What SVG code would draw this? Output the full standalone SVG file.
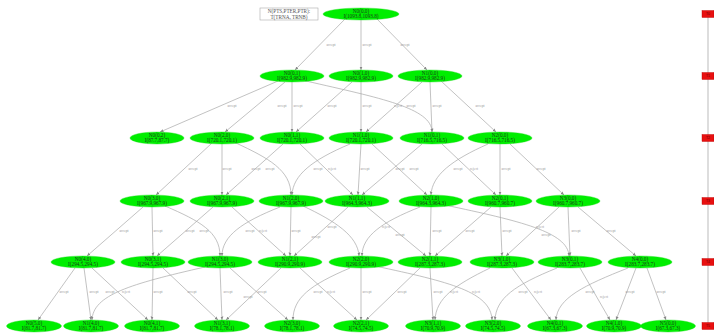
<svg xmlns="http://www.w3.org/2000/svg" width="714" height="335" viewBox="0 0 714 335">
<style>
.n{fill:#0e0;stroke:#2d2;stroke-width:0.4}
.t{font-family:"Liberation Serif",serif;font-size:5.2px;fill:#1a3a1a;text-anchor:middle}
.lg{font-family:"Liberation Serif",serif;font-size:5.2px;fill:#555;text-anchor:middle}
.e{fill:none;stroke:#a8a8a8;stroke-width:0.7;marker-end:url(#ah)}
.l{font-family:"Liberation Serif",serif;font-size:3.6px;fill:#999;text-anchor:middle}
.tl{stroke:#aaa;stroke-width:0.8}
.rb{fill:#e81010;stroke:#b00;stroke-width:0.4}
.rt{font-family:"Liberation Sans",sans-serif;font-size:3.4px;fill:#600;text-anchor:middle}
</style>
<defs>
<marker id="ah" markerWidth="4" markerHeight="4" refX="3.5" refY="2" orient="auto" markerUnits="userSpaceOnUse"><path d="M0,0.5 L3.5,2 L0,3.5 Z" fill="#888"/></marker>
</defs>
<rect width="714" height="335" fill="#fff"/>
<g id="legend">
<rect x="260" y="8" width="58" height="12" fill="#fff" stroke="#aaa" stroke-width="0.6"/>
<text class="lg" x="289" y="13">N(PTS,PTER,PTR):</text>
<text class="lg" x="289" y="18.5">T(TRNA, TRNB)</text>
</g>
<g id="timeline">
<line class="tl" x1="708" y1="14" x2="708" y2="326"/>
<rect class="rb" x="702" y="10.5" width="12" height="7"/><text class="rt" x="708" y="15.3">T0</text>
<rect class="rb" x="702" y="72.5" width="12" height="7"/><text class="rt" x="708" y="77.3">T1</text>
<rect class="rb" x="702" y="134.5" width="12" height="7"/><text class="rt" x="708" y="139.3">T2</text>
<rect class="rb" x="702" y="197.5" width="12" height="7"/><text class="rt" x="708" y="202.3">T3</text>
<rect class="rb" x="702" y="258.5" width="12" height="7"/><text class="rt" x="708" y="263.3">T4</text>
<rect class="rb" x="702" y="322.5" width="12" height="7"/><text class="rt" x="708" y="327.3">T5</text>
</g>
<g id="connectors">
<path class="e" d="M345,19 L295,70"/><text class="l" x="331" y="46">accept</text>
<path class="e" d="M361,20 L361,70"/><text class="l" x="367" y="46">accept</text>
<path class="e" d="M377,19 L427,70"/><text class="l" x="405" y="46">accept</text>

<path class="e" d="M278,81 L160,132"/><text class="l" x="232" y="107">accept</text>
<path class="e" d="M285,82 L225,132"/><text class="l" x="282" y="107">accept</text>
<path class="e" d="M292,82 L292,132"/><text class="l" x="298" y="107">accept</text>
<path class="e" d="M306,81 C380,98 432,108 432,132"/><text class="l" x="398" y="107">reject</text>
<path class="e" d="M352,82 L296,132"/><text class="l" x="332" y="107">accept</text>
<path class="e" d="M361,82 L361,132"/><text class="l" x="367" y="107">accept</text>
<path class="e" d="M422,82 L366,132"/><text class="l" x="411" y="107">accept</text>
<path class="e" d="M430,82 L432,132"/><text class="l" x="437" y="107">accept</text>
<path class="e" d="M441,81 L496,132"/><text class="l" x="480" y="107">accept</text>

<path class="e" d="M212,143 L156,195"/><text class="l" x="193" y="170">accept</text>
<path class="e" d="M222,144 L222,195"/><text class="l" x="227" y="170">accept</text>
<path class="e" d="M236,143 C268,158 291,170 291,195"/><text class="l" x="256" y="170">accept</text>
<path class="e" d="M283,144 L226,195"/><text class="l" x="270" y="170">accept</text>
<path class="e" d="M300,144 L353,195"/><text class="l" x="318" y="170">accept</text>
<path class="e" d="M350,144 C312,160 293,175 292,195"/><text class="l" x="332" y="170">reject</text>
<path class="e" d="M361,144 L358,195"/><text class="l" x="365" y="170">accept</text>
<path class="e" d="M372,144 L427,195"/><text class="l" x="400" y="170">accept</text>
<path class="e" d="M422,144 L362,195"/><text class="l" x="414" y="170">accept</text>
<path class="e" d="M442,144 L496,195"/><text class="l" x="458" y="170">accept</text>
<path class="e" d="M488,144 C452,160 432,175 431,195"/><text class="l" x="474" y="170">reject</text>
<path class="e" d="M500,144 L500,195"/><text class="l" x="506" y="170">accept</text>
<path class="e" d="M510,144 L564,195"/><text class="l" x="541" y="170">accept</text>

<path class="e" d="M143,207 L87,256"/><text class="l" x="124" y="232">accept</text>
<path class="e" d="M152,207 L153,256"/><text class="l" x="158" y="232">accept</text>
<path class="e" d="M165,206 C200,221 220,232 220,256"/><text class="l" x="190" y="232">accept</text>
<path class="e" d="M213,207 L157,256"/><text class="l" x="204" y="232">accept</text>
<path class="e" d="M232,207 L286,256"/><text class="l" x="250" y="232">accept</text>
<path class="e" d="M280,207 C242,222 222,236 222,256"/><text class="l" x="263" y="232">reject</text>
<path class="e" d="M291,207 L290,256"/><text class="l" x="296" y="232">accept</text>
<path class="e" d="M303,206 C335,221 358,236 359,256"/><text class="l" x="332" y="228">accept</text>
<path class="e" d="M348,207 L294,256"/><text class="l" x="316" y="238">accept</text>
<path class="e" d="M367,207 L426,256"/><text class="l" x="400" y="236">accept</text>
<path class="e" d="M420,207 C382,222 362,236 362,256"/><text class="l" x="386" y="228">reject</text>
<path class="e" d="M431,207 L430,256"/><text class="l" x="437" y="232">accept</text>
<path class="e" d="M445,205 C520,221 568,232 569,256"/><text class="l" x="540" y="228">reject</text>
<path class="e" d="M491,207 L435,256"/><text class="l" x="470" y="232">accept</text>
<path class="e" d="M500,207 L502,256"/><text class="l" x="507" y="232">accept</text>
<path class="e" d="M559,207 L506,256"/><text class="l" x="546" y="236">accept</text>
<path class="e" d="M568,207 L570,256"/><text class="l" x="576" y="232">accept</text>
<path class="e" d="M578,207 L636,256"/><text class="l" x="611" y="232">accept</text>

<path class="e" d="M75,268 L38,320"/><text class="l" x="64" y="293">accept</text>
<path class="e" d="M84,268 L91,320"/><text class="l" x="94" y="293">accept</text>
<path class="e" d="M92,268 L148,320"/><text class="l" x="110" y="293">accept</text>
<path class="e" d="M153,268 L152,320"/><text class="l" x="158" y="293">accept</text>
<path class="e" d="M163,268 L218,320"/><text class="l" x="192" y="293">accept</text>
<path class="e" d="M205,267 C130,284 93,295 92,320"/><text class="l" x="126" y="293">reject</text>
<path class="e" d="M220,268 L222,320"/><text class="l" x="228" y="293">accept</text>
<path class="e" d="M230,268 L288,320"/><text class="l" x="262" y="293">accept</text>
<path class="e" d="M281,268 L226,320"/><text class="l" x="248" y="298">accept</text>
<path class="e" d="M300,268 L357,320"/><text class="l" x="318" y="293">accept</text>
<path class="e" d="M350,268 C310,285 293,298 293,320"/><text class="l" x="331" y="293">reject</text>
<path class="e" d="M361,268 L361,320"/><text class="l" x="367" y="293">accept</text>
<path class="e" d="M375,266 C450,282 491,292 492,320"/><text class="l" x="454" y="293">reject</text>
<path class="e" d="M420,268 L366,320"/><text class="l" x="402" y="293">accept</text>
<path class="e" d="M430,268 L433,320"/><text class="l" x="438" y="293">accept</text>
<path class="e" d="M490,268 C455,285 436,298 435,320"/><text class="l" x="476" y="293">reject</text>
<path class="e" d="M512,268 L551,320"/><text class="l" x="523" y="293">accept</text>
<path class="e" d="M557,268 C515,285 496,298 495,320"/><text class="l" x="538" y="293">reject</text>
<path class="e" d="M580,268 L610,320"/><text class="l" x="590" y="293">accept</text>
<path class="e" d="M628,268 C585,285 557,298 556,320"/><text class="l" x="604" y="298">reject</text>
<path class="e" d="M636,268 L616,320"/><text class="l" x="630" y="293">accept</text>
<path class="e" d="M647,268 L666,320"/><text class="l" x="661" y="293">accept</text>
</g>

<g id="n00"><ellipse class="n" cx="361" cy="14" rx="38" ry="6"/><text class="t" x="361" y="12.8">N0(0,0)</text><text class="t" x="361" y="17.8">I(1093.8,1093.8)</text></g>

<g id="n1a"><ellipse class="n" cx="292" cy="76" rx="32" ry="6"/><text class="t" x="292" y="74.8">N0(0,1)</text><text class="t" x="292" y="79.8">I(982.9,982.9)</text></g>
<g id="n1b"><ellipse class="n" cx="361" cy="76" rx="32" ry="6"/><text class="t" x="361" y="74.8">N0(1,0)</text><text class="t" x="361" y="79.8">I(982.9,982.9)</text></g>
<g id="n1c"><ellipse class="n" cx="430" cy="76" rx="32" ry="6"/><text class="t" x="430" y="74.8">N1(0,0)</text><text class="t" x="430" y="79.8">I(982.9,982.9)</text></g>

<g id="n2a"><ellipse class="n" cx="157" cy="138" rx="27" ry="6"/><text class="t" x="157" y="136.8">N0(0,2)</text><text class="t" x="157" y="141.8">I(87.7,87.7)</text></g>
<g id="n2b"><ellipse class="n" cx="222" cy="138" rx="32" ry="6"/><text class="t" x="222" y="136.8">N0(2,0)</text><text class="t" x="222" y="141.8">I(720.1,720.1)</text></g>
<g id="n2c"><ellipse class="n" cx="292" cy="138" rx="32" ry="6"/><text class="t" x="292" y="136.8">N0(1,1)</text><text class="t" x="292" y="141.8">I(720.1,720.1)</text></g>
<g id="n2d"><ellipse class="n" cx="361" cy="138" rx="32" ry="6"/><text class="t" x="361" y="136.8">N1(1,0)</text><text class="t" x="361" y="141.8">I(720.1,720.1)</text></g>
<g id="n2e"><ellipse class="n" cx="432" cy="138" rx="32" ry="6"/><text class="t" x="432" y="136.8">N1(0,1)</text><text class="t" x="432" y="141.8">I(716.5,716.5)</text></g>
<g id="n2f"><ellipse class="n" cx="500" cy="138" rx="32" ry="6"/><text class="t" x="500" y="136.8">N2(0,0)</text><text class="t" x="500" y="141.8">I(716.5,716.5)</text></g>

<g id="n3a"><ellipse class="n" cx="152" cy="201" rx="32" ry="6"/><text class="t" x="152" y="199.8">N0(3,0)</text><text class="t" x="152" y="204.8">I(967.9,967.9)</text></g>
<g id="n3b"><ellipse class="n" cx="222" cy="201" rx="32" ry="6"/><text class="t" x="222" y="199.8">N0(2,1)</text><text class="t" x="222" y="204.8">I(967.9,967.9)</text></g>
<g id="n3c"><ellipse class="n" cx="291" cy="201" rx="32" ry="6"/><text class="t" x="291" y="199.8">N1(2,0)</text><text class="t" x="291" y="204.8">I(967.9,967.9)</text></g>
<g id="n3d"><ellipse class="n" cx="357" cy="201" rx="32" ry="6"/><text class="t" x="357" y="199.8">N1(1,1)</text><text class="t" x="357" y="204.8">I(964.3,964.3)</text></g>
<g id="n3e"><ellipse class="n" cx="431" cy="201" rx="32" ry="6"/><text class="t" x="431" y="199.8">N2(1,0)</text><text class="t" x="431" y="204.8">I(964.3,964.3)</text></g>
<g id="n3f"><ellipse class="n" cx="500" cy="201" rx="32" ry="6"/><text class="t" x="500" y="199.8">N2(0,1)</text><text class="t" x="500" y="204.8">I(960.7,960.7)</text></g>
<g id="n3g"><ellipse class="n" cx="568" cy="201" rx="32" ry="6"/><text class="t" x="568" y="199.8">N3(0,0)</text><text class="t" x="568" y="204.8">I(960.7,960.7)</text></g>

<g id="n4a"><ellipse class="n" cx="83" cy="262" rx="32" ry="6"/><text class="t" x="83" y="260.8">N0(4,0)</text><text class="t" x="83" y="265.8">I(294.5,294.5)</text></g>
<g id="n4b"><ellipse class="n" cx="153" cy="262" rx="32" ry="6"/><text class="t" x="153" y="260.8">N0(3,1)</text><text class="t" x="153" y="265.8">I(294.5,294.5)</text></g>
<g id="n4c"><ellipse class="n" cx="220" cy="262" rx="32" ry="6"/><text class="t" x="220" y="260.8">N1(3,0)</text><text class="t" x="220" y="265.8">I(294.5,294.5)</text></g>
<g id="n4d"><ellipse class="n" cx="290" cy="262" rx="32" ry="6"/><text class="t" x="290" y="260.8">N1(2,1)</text><text class="t" x="290" y="265.8">I(290.9,290.9)</text></g>
<g id="n4e"><ellipse class="n" cx="361" cy="262" rx="32" ry="6"/><text class="t" x="361" y="260.8">N2(2,0)</text><text class="t" x="361" y="265.8">I(290.9,290.9)</text></g>
<g id="n4f"><ellipse class="n" cx="430" cy="262" rx="32" ry="6"/><text class="t" x="430" y="260.8">N2(1,1)</text><text class="t" x="430" y="265.8">I(287.3,287.3)</text></g>
<g id="n4g"><ellipse class="n" cx="502" cy="262" rx="32" ry="6"/><text class="t" x="502" y="260.8">N3(1,0)</text><text class="t" x="502" y="265.8">I(287.3,287.3)</text></g>
<g id="n4h"><ellipse class="n" cx="570" cy="262" rx="32" ry="6"/><text class="t" x="570" y="260.8">N3(0,1)</text><text class="t" x="570" y="265.8">I(283.7,283.7)</text></g>
<g id="n4i"><ellipse class="n" cx="640" cy="262" rx="32" ry="6"/><text class="t" x="640" y="260.8">N4(0,0)</text><text class="t" x="640" y="265.8">I(283.7,283.7)</text></g>

<g id="n5a"><ellipse class="n" cx="34" cy="326" rx="27.5" ry="6"/><text class="t" x="34" y="324.8">N0(5,0)</text><text class="t" x="34" y="329.8">I(81.7,81.7)</text></g>
<g id="n5b"><ellipse class="n" cx="91" cy="326" rx="27.5" ry="6"/><text class="t" x="91" y="324.8">N1(4,0)</text><text class="t" x="91" y="329.8">I(81.7,81.7)</text></g>
<g id="n5c"><ellipse class="n" cx="152" cy="326" rx="27.5" ry="6"/><text class="t" x="152" y="324.8">N0(4,1)</text><text class="t" x="152" y="329.8">I(81.7,81.7)</text></g>
<g id="n5d"><ellipse class="n" cx="222" cy="326" rx="27.5" ry="6"/><text class="t" x="222" y="324.8">N1(3,1)</text><text class="t" x="222" y="329.8">I(78.1,78.1)</text></g>
<g id="n5e"><ellipse class="n" cx="292" cy="326" rx="27.5" ry="6"/><text class="t" x="292" y="324.8">N2(3,0)</text><text class="t" x="292" y="329.8">I(78.1,78.1)</text></g>
<g id="n5f"><ellipse class="n" cx="361" cy="326" rx="27.5" ry="6"/><text class="t" x="361" y="324.8">N2(2,1)</text><text class="t" x="361" y="329.8">I(74.5,74.5)</text></g>
<g id="n5g"><ellipse class="n" cx="433" cy="326" rx="27.5" ry="6"/><text class="t" x="433" y="324.8">N3(1,1)</text><text class="t" x="433" y="329.8">I(70.9,70.9)</text></g>
<g id="n5h"><ellipse class="n" cx="493" cy="326" rx="27.5" ry="6"/><text class="t" x="493" y="324.8">N3(2,0)</text><text class="t" x="493" y="329.8">I(74.5,74.5)</text></g>
<g id="n5i"><ellipse class="n" cx="555" cy="326" rx="27.5" ry="6"/><text class="t" x="555" y="324.8">N4(0,1)</text><text class="t" x="555" y="329.8">I(67.3,67.3)</text></g>
<g id="n5j"><ellipse class="n" cx="614" cy="326" rx="27.5" ry="6"/><text class="t" x="614" y="324.8">N4(1,0)</text><text class="t" x="614" y="329.8">I(70.9,70.9)</text></g>
<g id="n5k"><ellipse class="n" cx="668" cy="326" rx="27.5" ry="6"/><text class="t" x="668" y="324.8">N5(0,0)</text><text class="t" x="668" y="329.8">I(67.3,67.3)</text></g>
</svg>
